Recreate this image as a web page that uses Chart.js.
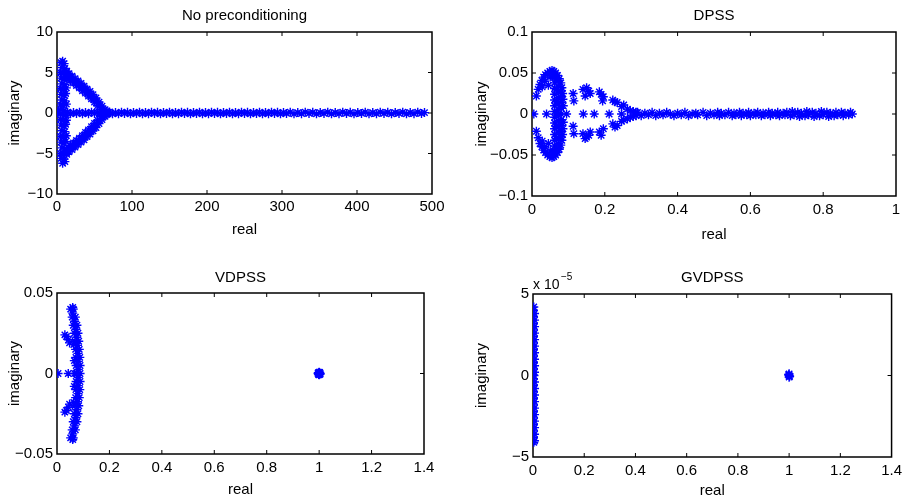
<!DOCTYPE html>
<html><head><meta charset="utf-8">
<script src="https://cdn.jsdelivr.net/npm/chart.js@4/dist/chart.umd.min.js"></script>
<style>
html,body{margin:0;padding:0;background:#fff;}
#wrap{position:relative;width:907px;height:500px;overflow:hidden;background:#fff;}
canvas{position:absolute;}
</style></head><body><div id="wrap">
<canvas id="c1"></canvas><canvas id="c2"></canvas><canvas id="c3"></canvas><canvas id="c4"></canvas>
</div>
<script>
// ---------- DATA: eigenvalues as [real, imaginary] ----------
const noPrecondEig = [
[0.5,0],[2,0.1],[14,0.05],
[5.5,6.2],[7.5,6.4],[9.5,6.1],[6.5,5.6],[10.5,5.5],[4.5,5.0],[8.5,4.9],[12.5,5.0],[5.5,4.3],[9.5,4.2],[11.5,4.4],[6.5,3.6],[10.5,3.5],[4.5,3.0],[8.5,2.9],[12.5,3.1],[5.5,2.3],[9.5,2.2],[11.5,2.4],[6.5,1.6],[10.5,1.5],[4.5,1.0],[8.5,0.9],[12.5,1.1],[5.5,0.4],[9.5,0.3],[7.5,-0.2],[11.5,-0.3],[4.5,-0.8],[8.5,-0.9],[12.5,-0.9],[5.5,-1.5],[9.5,-1.6],[11.5,-1.4],[6.5,-2.2],[10.5,-2.3],[4.5,-2.9],[8.5,-3.0],[12.5,-2.8],[5.5,-3.6],[9.5,-3.7],[11.5,-3.5],[6.5,-4.3],[10.5,-4.4],[4.5,-5.0],[8.5,-5.0],[12.5,-4.9],[5.5,-5.6],[9.5,-5.7],[7.5,-6.2],[10.5,-6.0],
[13,5.15],[15,4.3],[16,4.85],[18,4.0],[20,4.55],[22,3.7],[24,4.25],[26,3.4],[28,3.95],[30,3.1],[32,3.65],[34,2.75],[36,3.3],[38,2.45],[40,2.95],[42,2.1],[44,2.65],[46,1.75],[48,2.25],[50,1.35],[52,1.85],[54,0.9],[56,1.35],[58,0.4],[60,0.85],[62,0.0],[64,0.4],[66,-0.2],[68,0.1],
[14,4.7],[17,4.4],[21,4.1],[25,3.8],[29,3.5],[33,3.2],[37,2.9],[41,2.55],[45,2.2],[49,1.8],[53,1.4],[57,0.9],[61,0.45],
[13,-5.1],[15,-4.3],[16,-4.8],[18,-4.0],[20,-4.5],[22,-3.7],[24,-4.2],[26,-3.4],[28,-3.9],[30,-3.1],[32,-3.6],[34,-2.8],[36,-3.3],[38,-2.4],[40,-2.9],[42,-2.1],[44,-2.6],[46,-1.7],[48,-2.2],[50,-1.3],[52,-1.8],[54,-0.9],[56,-1.3],[58,-0.4],[60,-0.8],[64,-0.4],[66,0.2],[68,-0.1],
[14,-4.7],[17,-4.4],[21,-4.1],[25,-3.8],[29,-3.5],[33,-3.2],[37,-2.9],[41,-2.55],[45,-2.2],[49,-1.8],[53,-1.4],[57,-0.9],[61,-0.45],
[14,0.1],[18,-0.1],[22,0.05],[26,-0.05],[30,0.1],[34,-0.1],[38,0.05],[42,-0.08],[46,0.1],[50,-0.05],[54,0.08],[58,-0.1],[62,0.05],[66,-0.05],[70,0.12],[74,-0.1],[78,0.05],[82,-0.08],[86,0.1],[90,-0.05],[94,0.08],[98,-0.1],[102,0.05],[106,-0.05],[110,0.1],[114,-0.1],[118,0.05],[122,-0.08],[126,0.1],[130,-0.05],[134,0.08],[138,-0.1],[142,0.05],[146,-0.05],[150,0.1],[154,-0.1],[158,0.05],[162,-0.08],[166,0.1],[170,-0.05],[174,0.08],[178,-0.1],[182,0.05],[186,-0.05],[190,0.1],[194,-0.1],[198,0.05],[202,-0.08],[206,0.1],[210,-0.05],[214,0.08],[218,-0.1],[222,0.05],[226,-0.05],[230,0.1],[234,-0.1],[238,0.05],[242,-0.08],[246,0.1],[250,-0.05],[254,0.08],[258,-0.1],[262,0.05],[266,-0.05],[270,0.1],[274,-0.1],[278,0.05],[282,-0.08],[286,0.1],[290,-0.05],[294,0.08],[298,-0.1],[302,0.05],[306,-0.05],[311,0.1],[316,-0.1],[321,0.05],[326,-0.08],[331,0.1],[336,-0.05],[341,0.08],[346,-0.1],[351,0.05],[356,-0.05],[361,0.1],[366,-0.1],[371,0.05],[376,-0.08],[381,0.1],[386,-0.05],[391,0.08],[396,-0.1],[401,0.05],[406,-0.05],[411,0.1],[416,-0.1],[421,0.05],[426,-0.08],[431,0.1],[436,-0.05],[441,0.08],[446,-0.1],[451,0.05],[456,-0.05],[461,0.1],[466,-0.1],[471,0.05],[476,-0.08],[481,0.1],[486,-0.05],[490,0.05]
];

const dpssEig = [
[0.005,0],[0.040,0],[0.095,0],[0.141,0],[0.171,0],[0.212,0],[0.246,0],
[0.012,0.022],[0.017,0.030],[0.022,0.036],[0.027,0.041],[0.032,0.045],[0.037,0.048],[0.043,0.050],[0.049,0.052],[0.055,0.053],[0.060,0.052],[0.065,0.050],[0.070,0.047],[0.075,0.043],[0.079,0.038],[0.082,0.032],[0.084,0.025],[0.085,0.018],[0.086,0.010],
[0.028,0.033],[0.035,0.040],[0.045,0.035],[0.050,0.045],[0.058,0.046],[0.066,0.043],
[0.012,-0.021],[0.017,-0.029],[0.022,-0.036],[0.027,-0.040],[0.032,-0.044],[0.037,-0.047],[0.043,-0.050],[0.049,-0.052],[0.055,-0.053],[0.060,-0.052],[0.065,-0.050],[0.070,-0.047],[0.075,-0.043],[0.079,-0.038],[0.082,-0.032],[0.084,-0.025],[0.085,-0.018],[0.086,-0.010],
[0.028,-0.033],[0.035,-0.040],[0.045,-0.036],[0.050,-0.045],[0.058,-0.046],[0.066,-0.043],
[0.062,0.045],[0.062,0.038],[0.062,0.031],[0.062,0.024],[0.062,0.017],[0.062,0.010],[0.062,0.003],[0.062,-0.004],[0.062,-0.011],[0.062,-0.018],[0.062,-0.025],[0.062,-0.032],[0.062,-0.039],[0.062,-0.045],
[0.072,0.041],[0.072,0.034],[0.072,0.027],[0.072,0.020],[0.072,0.013],[0.072,0.006],[0.072,-0.001],[0.072,-0.008],[0.072,-0.015],[0.072,-0.022],[0.072,-0.029],[0.072,-0.036],[0.072,-0.042],
[0.080,0.028],[0.080,0.021],[0.080,0.014],[0.080,0.007],[0.080,0.0],[0.080,-0.007],[0.080,-0.014],[0.080,-0.021],[0.080,-0.028],
[0.067,0.030],[0.067,0.015],[0.067,0.0],[0.067,-0.015],[0.067,-0.030],
[0.113,0.025],[0.115,0.016],[0.140,0.030],[0.146,0.022],[0.150,0.032],[0.156,0.028],[0.160,0.025],[0.185,0.027],[0.190,0.024],[0.196,0.021],[0.194,0.016],[0.222,0.017],[0.228,0.015],[0.234,0.014],[0.246,0.009],[0.252,0.011],[0.262,0.006],[0.270,0.004],[0.278,0.003],[0.286,0.002],
[0.113,-0.015],[0.115,-0.024],[0.140,-0.024],[0.146,-0.030],[0.150,-0.028],[0.156,-0.026],[0.160,-0.022],[0.185,-0.022],[0.190,-0.026],[0.196,-0.018],[0.222,-0.012],[0.228,-0.016],[0.234,-0.014],[0.246,-0.009],[0.252,-0.007],[0.262,-0.006],[0.270,-0.004],[0.278,-0.003],[0.286,-0.002],
[0.29,0.002],[0.30,-0.002],[0.31,0.001],[0.32,-0.001],[0.33,0.002],[0.34,-0.002],[0.35,0.001],[0.36,-0.001],[0.37,0.002],[0.38,0],[0.39,-0.002],[0.40,0.001],[0.41,-0.001],[0.42,0.002],[0.43,-0.002],[0.44,0],[0.45,0.001],[0.455,-0.001],[0.47,0.002],[0.48,-0.002],[0.49,0.001],[0.50,-0.001],[0.51,0.002],[0.515,-0.002],[0.52,0.001],[0.53,-0.001],[0.54,0.002],[0.55,-0.002],[0.555,0.001],[0.56,-0.001],[0.57,0.002],[0.575,-0.002],[0.58,0.001],[0.59,-0.001],[0.595,0.002],[0.60,-0.002],[0.61,0.001],[0.615,-0.001],[0.62,0.002],[0.63,-0.002],[0.635,0.001],[0.64,-0.001],[0.65,0.002],[0.655,-0.002],[0.66,0.001],[0.67,-0.001],[0.675,0.002],[0.68,-0.002],[0.69,0.001],[0.695,-0.001],[0.70,0.002],[0.71,-0.002],[0.715,0.003],[0.72,-0.001],[0.73,0.002],[0.735,-0.003],[0.74,0.001],[0.75,-0.002],[0.755,0.003],[0.76,-0.001],[0.77,0.002],[0.775,-0.003],[0.78,0.001],[0.79,-0.002],[0.795,0.003],[0.80,-0.001],[0.81,0.002],[0.815,-0.003],[0.82,0.001],[0.83,-0.002],[0.835,0.002],[0.84,-0.001],[0.85,0.002],[0.855,-0.002],[0.86,0.001],[0.87,-0.001],[0.875,0.002],[0.88,0]
];

const vdpssEig = [
[0.004,0],[0.043,0],
[0.030,0.024],[0.036,0.023],[0.044,0.021],[0.048,0.019],
[0.030,-0.024],[0.036,-0.023],[0.044,-0.021],[0.048,-0.019],
[0.052,0.040],[0.060,0.041],[0.062,0.040],[0.058,0.035],[0.070,0.035],[0.060,0.0375],[0.067,0.0325],[0.062,0.030],[0.076,0.030],[0.072,0.0275],[0.066,0.025],[0.080,0.025],[0.075,0.0225],[0.069,0.020],[0.083,0.020],[0.078,0.0175],[0.071,0.015],[0.085,0.015],[0.080,0.0125],[0.072,0.010],[0.087,0.010],[0.081,0.0075],[0.073,0.005],[0.088,0.005],[0.081,0.0025],[0.073,0],[0.088,0],
[0.064,0.018],[0.066,0.008],[0.067,0],[0.066,-0.008],[0.064,-0.018],
[0.052,-0.040],[0.060,-0.041],[0.062,-0.040],[0.058,-0.035],[0.070,-0.035],[0.060,-0.0375],[0.067,-0.0325],[0.062,-0.030],[0.076,-0.030],[0.072,-0.0275],[0.066,-0.025],[0.080,-0.025],[0.075,-0.0225],[0.069,-0.020],[0.083,-0.020],[0.078,-0.0175],[0.071,-0.015],[0.085,-0.015],[0.080,-0.0125],[0.072,-0.010],[0.087,-0.010],[0.081,-0.0075],[0.073,-0.005],[0.088,-0.005],[0.081,-0.0025],
[1.0,0],[0.997,0.0005],[1.003,-0.0005],[0.998,-0.0006],[1.002,0.0006],[1.0,0.0008],[1.0,-0.0008],[0.996,0],[1.004,0]
];

const gvdpssEig = [
[0.003,4.2e-5],[0.002,4.0e-5],[0.006,3.8e-5],[0.002,3.6e-5],[0.006,3.4e-5],[0.002,3.2e-5],[0.006,3.0e-5],[0.002,2.8e-5],[0.006,2.6e-5],[0.002,2.4e-5],[0.006,2.2e-5],[0.002,2.0e-5],[0.006,1.8e-5],[0.002,1.6e-5],[0.006,1.4e-5],[0.002,1.2e-5],[0.006,1.0e-5],[0.002,0.8e-5],[0.006,0.6e-5],[0.002,0.4e-5],[0.006,0.2e-5],[0.004,0],
[0.002,-0.2e-5],[0.006,-0.4e-5],[0.002,-0.6e-5],[0.006,-0.8e-5],[0.002,-1.0e-5],[0.006,-1.2e-5],[0.002,-1.4e-5],[0.006,-1.6e-5],[0.002,-1.8e-5],[0.006,-2.0e-5],[0.002,-2.2e-5],[0.006,-2.4e-5],[0.002,-2.6e-5],[0.006,-2.8e-5],[0.002,-3.0e-5],[0.006,-3.2e-5],[0.002,-3.4e-5],[0.006,-3.6e-5],[0.002,-3.8e-5],[0.006,-4.0e-5],[0.003,-4.1e-5],
[1.0,0],[0.998,0.05e-5],[1.002,-0.05e-5],[1.0,0.1e-5],[1.0,-0.1e-5]
];

// ---------- TICKS ----------
const noPrecondXTicks = [0,100,200,300,400,500];
const noPrecondYTicks = [-10,-5,0,5,10];
const dpssXTicks = [0,0.2,0.4,0.6,0.8,1];
const dpssYTicks = [-0.1,-0.05,0,0.05,0.1];
const vdpssXTicks = [0,0.2,0.4,0.6,0.8,1,1.2,1.4];
const vdpssYTicks = [-0.05,0,0.05];
const gvdpssXTicks = [0,0.2,0.4,0.6,0.8,1,1.2,1.4];
const gvdpssYTicks = [-5e-5,0,5e-5];

const titles = ['No preconditioning','DPSS','VDPSS','GVDPSS'];

// ---------- LAYOUT / STYLE ----------
const FONT = '"Liberation Sans", Arial, Helvetica, sans-serif';
const FS = 15, LH = FS * 1.2;
const BLUE = '#0000ff';

function fmt(v, unit) {
  const n = Math.round(v / unit * 1e6) / 1e6;
  return (n < 0 ? '\u2212' : '') + String(Math.abs(n));
}

const boxPlugin = {
  id: 'mbox',
  beforeDatasetsDraw(chart) {
    const {ctx, chartArea: a, scales} = chart;
    ctx.save();
    ctx.strokeStyle = '#000';
    ctx.lineWidth = 1;
    const L = 4;
    ctx.beginPath();
    scales.x.ticks.forEach(t => {
      const px = scales.x.getPixelForValue(t.value);
      if (px <= a.left + 1 || px >= a.right - 1) return;
      ctx.moveTo(px, a.bottom); ctx.lineTo(px, a.bottom - L);
      ctx.moveTo(px, a.top); ctx.lineTo(px, a.top + L);
    });
    scales.y.ticks.forEach(t => {
      const py = scales.y.getPixelForValue(t.value);
      if (py <= a.top + 1 || py >= a.bottom - 1) return;
      ctx.moveTo(a.left, py); ctx.lineTo(a.left + L, py);
      ctx.moveTo(a.right, py); ctx.lineTo(a.right - L, py);
    });
    ctx.stroke();
    ctx.lineWidth = 1.5;
    ctx.strokeRect(a.left, a.top, a.right - a.left, a.bottom - a.top);
    ctx.restore();
  },
  afterDraw(chart, args, opts) {
    if (!opts || !opts.exp) return;
    const {ctx, chartArea: a} = chart;
    ctx.save();
    ctx.fillStyle = '#000';
    ctx.textBaseline = 'alphabetic';
    ctx.textAlign = 'left';
    ctx.font = '14px ' + FONT;
    const base = 'x 10';
    ctx.fillText(base, a.left, a.top - 5.5);
    const w = ctx.measureText(base).width;
    ctx.font = '10px ' + FONT;
    ctx.fillText(opts.exp, a.left + w + 1.5, a.top - 14);
    ctx.restore();
  }
};

const panels = [
  {id:'c1', title:titles[0], pts:noPrecondEig, xt:noPrecondXTicks, yt:noPrecondYTicks, yUnit:1,
   cv:[0,0,450,250], area:[57,32,432,194], titleY:16, yLabX:15, xLabY:230, xTickY:207},
  {id:'c2', title:titles[1], pts:dpssEig, xt:dpssXTicks, yt:dpssYTicks, yUnit:1,
   cv:[450,0,457,250], area:[532,32,896,196], titleY:16, yLabX:482, xLabY:235, xTickY:210},
  {id:'c3', title:titles[2], pts:vdpssEig, xt:vdpssXTicks, yt:vdpssYTicks, yUnit:1,
   cv:[0,250,450,250], area:[57,293,424,454], titleY:277.5, yLabX:15, xLabY:490, xTickY:468},
  {id:'c4', title:titles[3], pts:gvdpssEig, xt:gvdpssXTicks, yt:gvdpssYTicks, yUnit:1e-5, exp:'\u22125',
   cv:[450,250,457,250], area:[533,294,894,457], titleY:277.5, yLabX:482, xLabY:491, xTickY:471}
];

function build(p) {
  const cv = document.getElementById(p.id);
  const [cl, ct, cw, ch] = p.cv;
  const [al, at, ar, ab] = p.area;
  cv.width = cw; cv.height = ch;
  cv.style.left = cl + 'px'; cv.style.top = ct + 'px';
  const yW = al - cl, xH = ct + ch - ab;
  const tTop = p.titleY - ct - LH / 2;
  const tBot = (at - ct) - tTop - LH;
  const font = {family: FONT, size: FS, weight: 'normal'};
  new Chart(cv, {
    type: 'scatter',
    data: {datasets: [{
      data: p.pts.map(([x, y]) => ({x, y})),
      pointStyle: 'star', pointRadius: 4.5, pointHoverRadius: 4.5,
      borderColor: BLUE, backgroundColor: BLUE, borderWidth: 1.4, showLine: false
    }]},
    options: {
      responsive: false, maintainAspectRatio: false, animation: false, events: [],
      layout: {padding: {left: 0, top: 0, right: cl + cw - ar, bottom: 0}},
      plugins: {
        legend: {display: false}, tooltip: {enabled: false},
        title: {display: true, text: p.title, fullSize: false, color: '#000', font,
                padding: {top: tTop, bottom: tBot}},
        mbox: {exp: p.exp || null}
      },
      scales: {
        x: {
          type: 'linear', position: 'bottom', min: p.xt[0], max: p.xt[p.xt.length - 1],
          afterBuildTicks: s => { s.ticks = p.xt.map(v => ({value: v})); },
          afterFit: s => { s.height = xH; },
          grid: {display: false, drawTicks: false}, border: {display: false},
          ticks: {padding: p.xTickY - ab - LH / 2, color: '#000', font, autoSkip: false,
                  maxRotation: 0, minRotation: 0, callback: v => fmt(v, 1)},
          title: {display: true, text: 'real', color: '#000', font,
                  padding: {top: 0, bottom: Math.max(0, ct + ch - p.xLabY - LH / 2)}}
        },
        y: {
          type: 'linear', position: 'left', min: p.yt[0], max: p.yt[p.yt.length - 1],
          afterBuildTicks: s => { s.ticks = p.yt.map(v => ({value: v})); },
          afterFit: s => { s.width = yW; },
          grid: {display: false, drawTicks: false}, border: {display: false},
          ticks: {padding: 4, color: '#000', font, autoSkip: false, callback: v => fmt(v, p.yUnit)},
          title: {display: true, text: 'imaginary', color: '#000', font,
                  padding: {top: p.yLabX - cl - LH / 2, bottom: 0}}
        }
      }
    },
    plugins: [boxPlugin]
  });
}
panels.forEach(build);
</script>
</body></html>
